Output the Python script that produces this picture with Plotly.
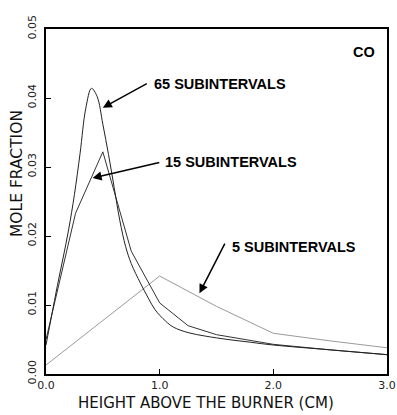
import plotly.graph_objects as go

# 65 subintervals (smooth profile)
x65 = [0.0, 0.05, 0.10, 0.15, 0.20, 0.25, 0.30, 0.35, 0.40, 0.45, 0.50, 0.55, 0.60,
       0.65, 0.70, 0.75, 0.83, 0.90, 0.96, 1.05, 1.12, 1.25, 1.40, 1.60, 1.80, 2.00, 2.50, 3.00]
y65 = [0.0042, 0.0085, 0.0128, 0.0168, 0.0210, 0.0260, 0.0320, 0.0385, 0.0414, 0.0402,
       0.0362, 0.0318, 0.0270, 0.0222, 0.0185, 0.0160, 0.0132, 0.0110, 0.0093, 0.0077,
       0.0068, 0.0060, 0.0055, 0.0050, 0.0046, 0.0042, 0.0035, 0.0028]

# 15 subintervals (coarse polyline)
x15 = [0.0, 0.26, 0.50, 0.75, 1.00, 1.25, 1.50, 2.00, 2.50, 3.00]
y15 = [0.0050, 0.0233, 0.0322, 0.0178, 0.0103, 0.0070, 0.0057, 0.0043, 0.0035, 0.0028]

# 5 subintervals
x5 = [0.0, 1.0, 1.5, 2.0, 2.5, 3.0]
y5 = [0.0013, 0.0142, 0.0098, 0.0059, 0.0048, 0.0038]

x_ticks = [0.0, 1.0, 2.0, 3.0]
x_ticklabels = ["0.0", "1.0", "2.0", "3.0"]
y_ticks = [0.00, 0.01, 0.02, 0.03, 0.04, 0.05]
y_ticklabels = ["0.00", "0.01", "0.02", "0.03", "0.04", "0.05"]

W, H = 397, 415
L, R, T, B = 46, 10, 29, 41
PW, PH = W - L - R, H - T - B

fig = go.Figure()
fig.add_trace(go.Scatter(x=x5, y=y5, mode="lines",
                         line=dict(color="#9a9a9a", width=1)))
fig.add_trace(go.Scatter(x=x15, y=y15, mode="lines",
                         line=dict(color="#333333", width=1)))
fig.add_trace(go.Scatter(x=x65, y=y65, mode="lines", line_shape="spline",
                         line=dict(color="#222222", width=1)))

lab_font = dict(family="Liberation Sans", size=14.5, color="black")

def arrow(tip, tail):
    fig.add_annotation(x=tip[0], y=tip[1], ax=tail[0], ay=tail[1],
                       xref="x", yref="y", axref="x", ayref="y",
                       text="", showarrow=True, arrowhead=2, arrowsize=1.2,
                       arrowwidth=1.5, arrowcolor="black")

arrow((0.50, 0.0386), (0.90, 0.0422))
arrow((0.41, 0.0284), (1.01, 0.0307))
arrow((1.35, 0.0117), (1.58, 0.0191))

fig.add_annotation(x=0.93, y=0.0421, text="<b>65 SUBINTERVALS</b>", showarrow=False,
                   xanchor="left", yanchor="middle", font=lab_font)
fig.add_annotation(x=1.03, y=0.0307, text="<b>15 SUBINTERVALS</b>", showarrow=False,
                   xanchor="left", yanchor="middle", font=lab_font)
fig.add_annotation(x=1.62, y=0.0184, text="<b>5 SUBINTERVALS</b>", showarrow=False,
                   xanchor="left", yanchor="middle", font=lab_font)
fig.add_annotation(x=2.80, y=0.0467, text="<b>CO</b>", showarrow=False,
                   xanchor="center", yanchor="middle", font=lab_font)

# axis titles placed as annotations (paper coords are relative to plot area)
fig.add_annotation(x=(206 - L) / PW, y=(H - B - 403) / PH, xref="paper", yref="paper",
                   text="HEIGHT ABOVE THE BURNER (CM)", showarrow=False,
                   xanchor="center", yanchor="middle",
                   font=dict(family="DejaVu Sans", size=15, color="#111"))
fig.add_annotation(x=(17 - L) / PW, y=(H - B - 174) / PH, xref="paper", yref="paper",
                   text="MOLE FRACTION", showarrow=False, textangle=-90,
                   xanchor="center", yanchor="middle",
                   font=dict(family="DejaVu Sans", size=15.5, color="#111"))

fig.update_layout(
    width=W, height=H,
    margin=dict(l=L, r=R, t=T, b=B, autoexpand=False),
    paper_bgcolor="white", plot_bgcolor="white",
    showlegend=False,
    font=dict(family="DejaVu Sans", color="black"),
)

fig.update_xaxes(range=[0, 3], tickvals=x_ticks, ticktext=x_ticklabels,
                 ticks="inside", ticklen=5, tickcolor="black",
                 showgrid=False, zeroline=False, automargin=False,
                 showline=True, linecolor="black", linewidth=2, mirror=True,
                 tickfont=dict(size=11, color="#222"),
                 ticklabeloverflow="allow")
fig.update_yaxes(range=[0, 0.05], tickvals=y_ticks, ticktext=y_ticklabels,
                 ticks="inside", ticklen=5, tickcolor="black",
                 showgrid=False, zeroline=False, automargin=False,
                 showline=True, linecolor="black", linewidth=2, mirror=True,
                 tickangle=-90, tickfont=dict(size=11, color="#222"),
                 ticklabelstandoff=4, ticklabeloverflow="allow")

fig.write_html("out.html")
